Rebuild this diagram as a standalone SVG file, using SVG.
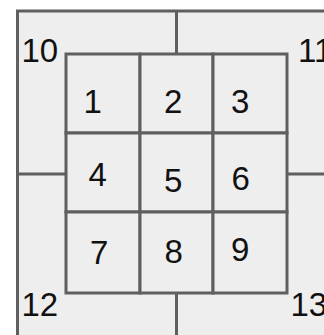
<svg xmlns="http://www.w3.org/2000/svg" width="324" height="335" viewBox="0 0 324 335">
<style>
.ln{fill:none;stroke:#5f5f5f;stroke-width:3}
.cell{fill:#eeeeee;stroke:#5f5f5f;stroke-width:3}
.t{font-family:"Liberation Sans",Arial,sans-serif;font-size:33px;fill:#111}
</style>
<rect x="0" y="0" width="324" height="335" fill="#ffffff"/>
<g id="outer">
<rect x="17.5" y="11" width="320" height="340" fill="#eeeeee"/>
<path class="ln" d="M17.5,340 V11 H330"/>
</g>
<g id="dividers">
<path class="ln" d="M176.5,11 V54 M176.5,293 V340 M17.5,174 H66 M287,174 H330"/>
</g>
<g id="n10"><text class="t" x="21.5" y="62">10</text></g>
<g id="n11"><text class="t" x="298" y="62">11</text></g>
<g id="n12"><text class="t" x="21.5" y="316">12</text></g>
<g id="n13"><text class="t" x="290.5" y="316">13</text></g>
<g id="n1"><rect class="cell" x="66" y="54" width="74" height="79"/><text class="t" x="83.5" y="113">1</text></g>
<g id="n2"><rect class="cell" x="140" y="54" width="73" height="79"/><text class="t" x="164" y="113">2</text></g>
<g id="n3"><rect class="cell" x="213" y="54" width="74" height="79"/><text class="t" x="231" y="113">3</text></g>
<g id="n4"><rect class="cell" x="66" y="133" width="74" height="79"/><text class="t" x="88.5" y="186">4</text></g>
<g id="n5"><rect class="cell" x="140" y="133" width="73" height="79"/><text class="t" x="164" y="192">5</text></g>
<g id="n6"><rect class="cell" x="213" y="133" width="74" height="79"/><text class="t" x="231.5" y="190">6</text></g>
<g id="n7"><rect class="cell" x="66" y="212" width="74" height="81"/><text class="t" x="90" y="264">7</text></g>
<g id="n8"><rect class="cell" x="140" y="212" width="73" height="81"/><text class="t" x="164.5" y="263">8</text></g>
<g id="n9"><rect class="cell" x="213" y="212" width="74" height="81"/><text class="t" x="231" y="261">9</text></g>
</svg>
